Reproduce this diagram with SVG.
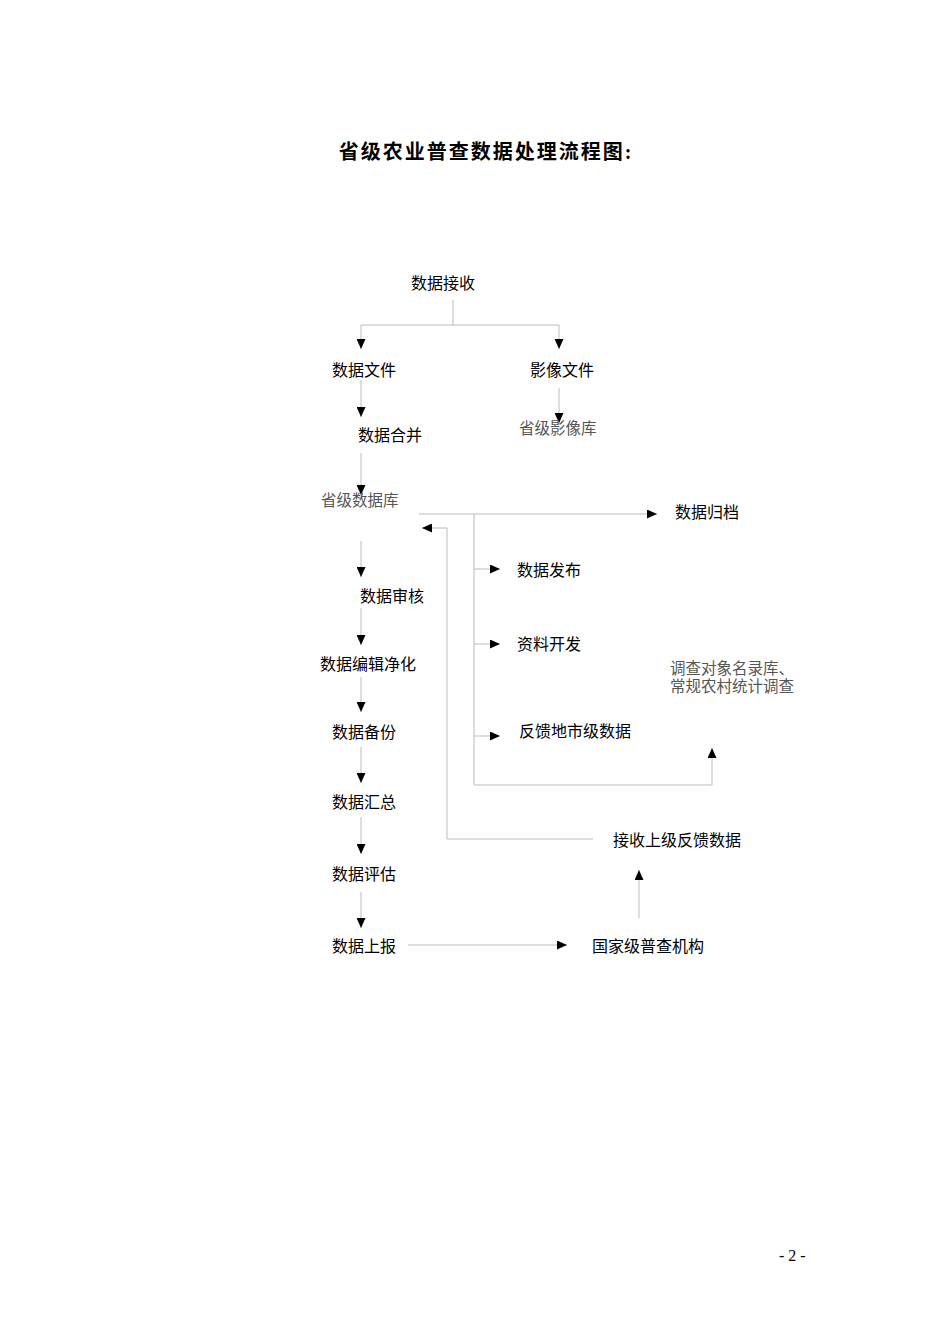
<svg xmlns="http://www.w3.org/2000/svg" width="950" height="1344" viewBox="0 0 950 1344">
<style>
.n{font-family:"Noto Sans CJK SC","Noto Sans",sans-serif;font-size:16px;fill:#000}
.s{font-family:"Liberation Serif","Noto Sans CJK SC",serif;font-size:15.5px;fill:#555}
.t{font-family:"Liberation Serif","Noto Sans CJK SC",serif;font-size:20px;font-weight:bold;fill:#000;letter-spacing:2px}
.l{fill:none;stroke:#bbb;stroke-width:1}
.a{fill:none;stroke:#bbb;stroke-width:1;marker-end:url(#ah)}
</style>
<defs>
<marker id="ah" markerUnits="userSpaceOnUse" markerWidth="10" markerHeight="9" refX="10" refY="4.5" orient="auto">
<path d="M0,0 L10,4.5 L0,9 Z" fill="#000"/>
</marker>
</defs>
<rect width="950" height="1344" fill="#fff"/>
<text class="t" x="486" y="159" text-anchor="middle">省级农业普查数据处理流程图:</text>
<g id="connectors">
<path class="l" d="M453,300 V325 M361,325 H559"/>
<path class="a" d="M361,325 V349"/>
<path class="a" d="M559,325 V349"/>
<path class="a" d="M361,380 V417"/>
<path class="a" d="M559,388 V423"/>
<path class="a" d="M361,453 V495"/>
<path class="a" d="M419,514 H657"/>
<path class="l" d="M474,514 V785 H712"/>
<path class="a" d="M712,785 V748"/>
<path class="a" d="M474,569 H500"/>
<path class="a" d="M474,644 H500"/>
<path class="a" d="M474,736 H500"/>
<path class="a" d="M593,839 H447 V528 H422"/>
<path class="a" d="M361,541 V577"/>
<path class="a" d="M361,608 V645"/>
<path class="a" d="M361,677 V712"/>
<path class="a" d="M361,747 V783"/>
<path class="a" d="M361,817 V854"/>
<path class="a" d="M361,892 V928"/>
<path class="a" d="M408,945 H567"/>
<path class="a" d="M639,918 V870"/>
</g>
<g id="n1"><text class="n" x="411" y="289">数据接收</text></g>
<g id="n2"><text class="n" x="332" y="376">数据文件</text></g>
<g id="n3"><text class="n" x="530" y="376">影像文件</text></g>
<g id="n4"><text class="n" x="358" y="441">数据合并</text></g>
<g id="n5"><text class="s" x="519" y="434">省级影像库</text></g>
<g id="n6"><text class="s" x="321" y="506">省级数据库</text></g>
<g id="n7"><text class="n" x="675" y="518">数据归档</text></g>
<g id="n8"><text class="n" x="517" y="576">数据发布</text></g>
<g id="n9"><text class="n" x="360" y="602">数据审核</text></g>
<g id="n10"><text class="n" x="517" y="650">资料开发</text></g>
<g id="n11"><text class="n" x="320" y="670">数据编辑净化</text></g>
<g id="n12"><text class="s" x="670" y="674">调查对象名录库、</text><text class="s" x="670" y="692">常规农村统计调查</text></g>
<g id="n13"><text class="n" x="332" y="738">数据备份</text></g>
<g id="n14"><text class="n" x="519" y="737">反馈地市级数据</text></g>
<g id="n15"><text class="n" x="332" y="808">数据汇总</text></g>
<g id="n16"><text class="n" x="613" y="846">接收上级反馈数据</text></g>
<g id="n17"><text class="n" x="332" y="880">数据评估</text></g>
<g id="n18"><text class="n" x="332" y="952">数据上报</text></g>
<g id="n19"><text class="n" x="592" y="952">国家级普查机构</text></g>
<text class="s" x="779" y="1261" style="fill:#000;font-size:16px">- 2 -</text>
</svg>
